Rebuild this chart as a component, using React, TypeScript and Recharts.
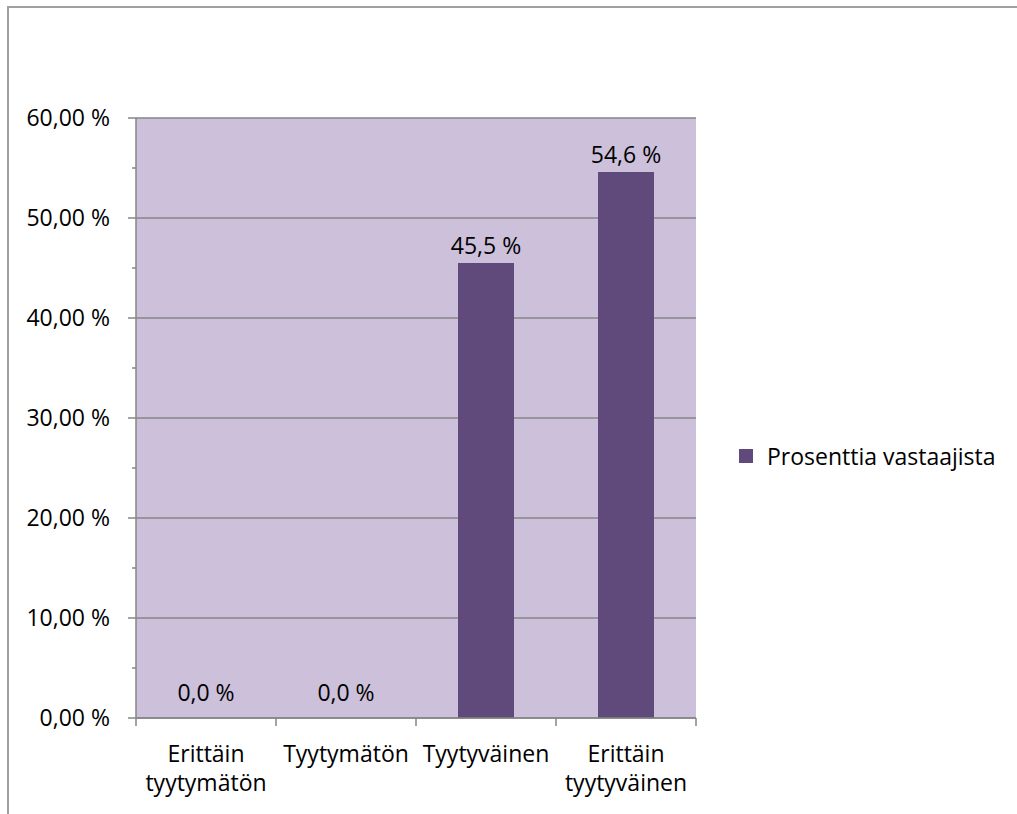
import { ComposedChart, Bar, Line, XAxis, YAxis, CartesianGrid, Legend, LabelList } from "recharts";

const categories = ["Erittäin tyytymätön", "Tyytymätön", "Tyytyväinen", "Erittäin tyytyväinen"];
const shares = [0.0, 0.0, 45.5, 54.6];
const yTicks = [0, 5, 10, 15, 20, 25, 30, 35, 40, 45, 50, 55, 60];
const seriesName = "Prosenttia vastaajista";

const chartData = categories.map((name, i) => ({ name, share: shares[i] }));

const FONT = "'Open Sans', sans-serif";
const FONT_SIZE = 23;
const AXIS = "#868686";
const BAR = "#604A7B";
const PLOT_BG = "#CCC0DA";

const fmtPct = (v: number, digits: number) => `${v.toFixed(digits).replace(".", ",")} %`;

// left axis: labelled major ticks every 10, short unlabelled minor ticks in between
function YTick(props: any) {
  const { x, y, payload } = props;
  const major = payload.value % 10 === 0;
  return (
    <g>
      <line x1={x - (major ? 8 : 4)} x2={x} y1={y} y2={y} stroke={AXIS} strokeWidth={1.5} />
      {major && (
        <text x={x - 26} y={y + 8} textAnchor="end" fontFamily={FONT} fontSize={FONT_SIZE} fill="#000">
          {fmtPct(payload.value, 2)}
        </text>
      )}
    </g>
  );
}

// bottom axis: tick marks on category borders, names wrapped onto two lines
function XTick(props: any) {
  const { x, y, payload, index, width, visibleTicksCount } = props;
  const band = width / visibleTicksCount;
  const words = String(payload.value).split(" ");
  return (
    <g>
      <line x1={x - band / 2} x2={x - band / 2} y1={y} y2={y + 8} stroke={AXIS} strokeWidth={1.5} />
      {index === visibleTicksCount - 1 && (
        <line x1={x + band / 2} x2={x + band / 2} y1={y} y2={y + 8} stroke={AXIS} strokeWidth={1.5} />
      )}
      {words.map((w, i) => (
        <text key={i} x={x} y={y + 44 + i * 29} textAnchor="middle" fontFamily={FONT} fontSize={FONT_SIZE} fill="#000">
          {w}
        </text>
      ))}
    </g>
  );
}

// value labels sit on the bar tops; zero bars get a little extra lift
function ValueLabel(props: any) {
  const { x, y, value } = props;
  return (
    <text x={x} y={y - (value ? 9 : 17)} textAnchor="middle" fontFamily={FONT} fontSize={FONT_SIZE} fill="#000">
      {fmtPct(Number(value), 1)}
    </text>
  );
}

function LegendBox() {
  return (
    <div style={{ display: "flex", alignItems: "center", fontFamily: FONT, fontSize: FONT_SIZE, color: "#000" }}>
      <span style={{ width: 14, height: 14, background: BAR, marginRight: 14, display: "inline-block" }} />
      {seriesName}
    </div>
  );
}

export default function App() {
  return (
    <div style={{ position: "fixed", left: 0, top: 0, width: 1017, height: 814, overflow: "hidden", background: "#fff" }}>
      <div
        style={{
          position: "absolute",
          left: 7,
          top: 6,
          width: 1010,
          height: 808,
          borderTop: "2px solid #a0a0a0",
          borderLeft: "2px solid #a0a0a0",
          boxSizing: "border-box",
        }}
      />
      <div style={{ position: "absolute", left: 0, top: 0 }}>
        <ComposedChart
          width={1017}
          height={814}
          data={chartData}
          margin={{ top: 118, right: 321, bottom: 0, left: 36 }}
          barCategoryGap="30%"
        >
          <CartesianGrid
            vertical={false}
            fill={PLOT_BG}
            fillOpacity={1}
            stroke={AXIS}
            horizontal={(p: any) =>
              p.index % 2 === 0 ? (
                <line key={p.key} x1={p.x1} x2={p.x2} y1={p.y1} y2={p.y2} stroke={AXIS} strokeWidth={1.5} />
              ) : (
                <g key={p.key} />
              )
            }
          />
          <XAxis
            dataKey="name"
            height={96}
            interval={0}
            tickLine={false}
            tickSize={0}
            tickMargin={0}
            axisLine={{ stroke: AXIS, strokeWidth: 1.5 }}
            tick={<XTick />}
          />
          <YAxis
            width={100}
            domain={[0, 60]}
            ticks={yTicks}
            interval={0}
            tickLine={false}
            tickSize={0}
            tickMargin={0}
            axisLine={{ stroke: AXIS, strokeWidth: 1.5 }}
            tick={<YTick />}
          />
          <Legend
            layout="horizontal"
            align="center"
            verticalAlign="middle"
            content={<LegendBox />}
            wrapperStyle={{ left: 739, top: 440, width: "auto" }}
          />
          <Bar dataKey="share" name={seriesName} fill={BAR} isAnimationActive={false} />
          {/* invisible line through the bar tops carries the value labels, zero values included */}
          <Line
            dataKey="share"
            stroke="none"
            dot={false}
            activeDot={false}
            legendType="none"
            isAnimationActive={false}
          >
            <LabelList dataKey="share" content={<ValueLabel />} />
          </Line>
        </ComposedChart>
      </div>
    </div>
  );
}
